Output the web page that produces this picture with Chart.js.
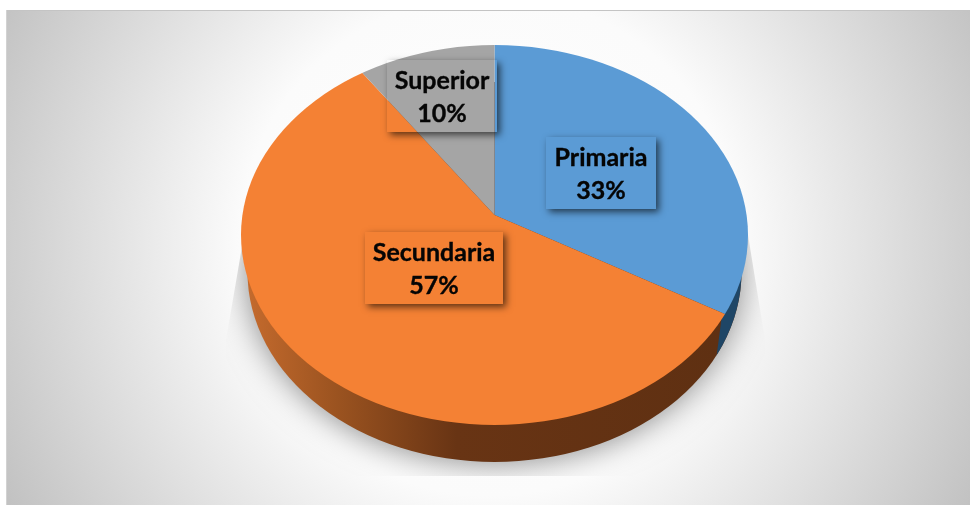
<!DOCTYPE html>
<html><head><meta charset="utf-8">
<style>html,body{margin:0;padding:0;background:#fff}canvas{display:block}</style>
<script src="https://cdn.jsdelivr.net/npm/chart.js@4/dist/chart.umd.min.js"></script>
</head><body>
<div style="width:970px;height:506px"><canvas id="c" width="970" height="506"></canvas></div>
<script>
const categories = ['Primaria', 'Secundaria', 'Superior'];
const shares = [33, 57, 10];
const sliceColors = ['#5b9bd5', '#f48134', '#a5a5a5'];
const percentText = ['33%', '57%', '10%'];

const FACE = {cx: 494.5, cy: 235, rx: 253.5, ry: 190};
const BASE = {cx: 494.5, cy: 272, rx: 247, ry: 190};
const APEX = {x: 494.5, y: 215, sx: 1.12, sy: 0.875};
const BOXES = [
  {x: 546, y: 137, w: 110, h: 72},
  {x: 365, y: 232, w: 138, h: 72},
  {x: 387, y: 60, w: 110, h: 72}
];
const TEXT_Y = [[158, 191], [253, 286], [81, 114]];

function ell(ctx, e) { ctx.beginPath(); ctx.ellipse(e.cx, e.cy, e.rx, e.ry, 0, 0, Math.PI * 2); ctx.closePath(); }

const scene = {
  id: 'scene',
  beforeDatasetsDraw(chart) {
    const ctx = chart.ctx;
    ctx.save();
    const g = ctx.createRadialGradient(490, 245, 0, 490, 245, 545);
    g.addColorStop(0, '#ffffff');
    g.addColorStop(0.46, '#fbfbfb');
    g.addColorStop(1, '#c2c2c2');
    ctx.fillStyle = g;
    ctx.fillRect(7, 10, 963, 495);
    ctx.fillStyle = '#c4c4c4';
    ctx.fillRect(6, 10, 964, 1);
    ctx.fillStyle = '#d2d2d2';
    ctx.fillRect(6, 10, 1, 495);
    ctx.restore();

    // soft shadow, cut off by its own tapering box
    ctx.save();
    ctx.beginPath();
    ctx.moveTo(244, 235); ctx.lineTo(226, 340); ctx.lineTo(226, 476);
    ctx.lineTo(765, 476); ctx.lineTo(765, 340); ctx.lineTo(748, 235);
    ctx.closePath();
    ctx.clip();
    ctx.shadowColor = 'rgba(0,0,0,0.5)';
    ctx.shadowBlur = 34;
    ctx.shadowOffsetY = 0;
    ctx.fillStyle = '#777';
    ell(ctx, {cx: BASE.cx, cy: BASE.cy, rx: BASE.rx - 1, ry: BASE.ry - 1});
    ctx.fill();
    ctx.restore();

    // side wall
    ctx.save();
    const w = ctx.createLinearGradient(241, 0, 720, 0);
    w.addColorStop(0, '#c76c2e');
    w.addColorStop(0.2, '#9b5320');
    w.addColorStop(0.45, '#683414');
    w.addColorStop(1, '#5f3012');
    ell(ctx, BASE);
    ctx.fillStyle = w;
    ctx.fill();
    ctx.beginPath();
    ctx.moveTo(724, 300); ctx.lineTo(716, 360); ctx.lineTo(770, 360); ctx.lineTo(770, 200); ctx.lineTo(724, 200);
    ctx.closePath();
    ctx.clip();
    ell(ctx, BASE);
    ctx.fillStyle = '#1f4666';
    ctx.fill();
    ctx.restore();

    // the library's arcs are drawn through this projection, trimmed by the top face
    const arc = chart.getDatasetMeta(0).data[0];
    ctx.save();
    ell(ctx, FACE);
    ctx.clip();
    ctx.translate(APEX.x, APEX.y);
    ctx.scale(APEX.sx, APEX.sy);
    ctx.translate(-arc.x, -arc.y);
  },
  afterDatasetsDraw(chart) {
    const ctx = chart.ctx;
    ctx.restore();
    ctx.textAlign = 'center';
    ctx.textBaseline = 'middle';
    BOXES.forEach((b, i) => {
      // label boxes are see-through: only their drop shadow shows
      ctx.save();
      ctx.beginPath();
      ctx.rect(0, 0, chart.width, chart.height);
      ctx.rect(b.x, b.y, b.w, b.h);
      ctx.clip('evenodd');
      ctx.shadowColor = 'rgba(0,0,0,0.62)';
      ctx.shadowBlur = 7;
      ctx.shadowOffsetX = 3;
      ctx.shadowOffsetY = 3;
      ctx.fillStyle = '#000';
      ctx.fillRect(b.x, b.y, b.w, b.h);
      ctx.restore();
      ctx.fillStyle = '#050505';
      ctx.strokeStyle = '#050505';
      ctx.lineWidth = 0.35;
      ctx.font = 'bold 25px Lato, "Open Sans", sans-serif';
      const cx = b.x + b.w / 2;
      [categories[i], percentText[i]].forEach((t, k) => {
        ctx.fillText(t, cx, TEXT_Y[i][k]);
        ctx.strokeText(t, cx, TEXT_Y[i][k]);
      });
    });
  }
};

new Chart(document.getElementById('c'), {
  type: 'pie',
  data: {labels: categories, datasets: [{data: shares, backgroundColor: sliceColors, borderWidth: 0, hoverOffset: 0}]},
  options: {
    responsive: false,
    animation: false,
    layout: {padding: 0},
    plugins: {legend: {display: false}, tooltip: {enabled: false}, title: {display: false}}
  },
  plugins: [scene]
});
</script>
</body></html>
